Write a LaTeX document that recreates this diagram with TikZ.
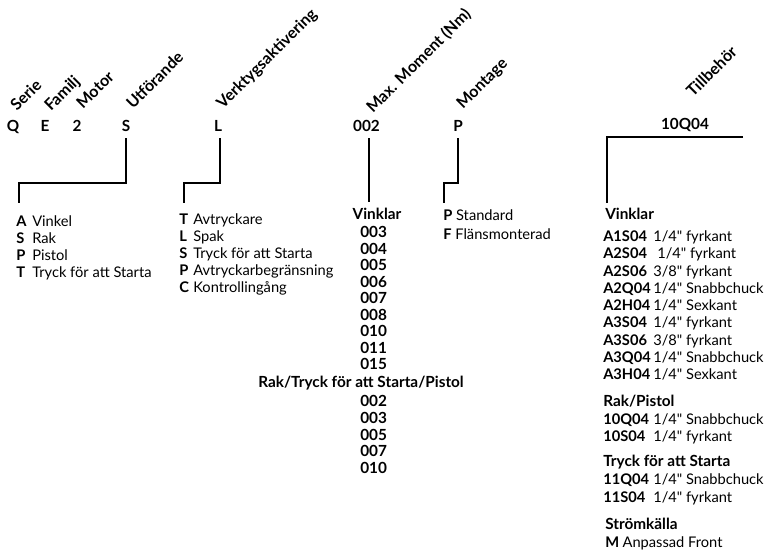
\documentclass[tikz,border=0pt]{standalone}
\usepackage{fontspec}
\setmainfont{Lato}
\usetikzlibrary{positioning,calc}

\tikzset{
  code/.style={font=\fontsize{11.5}{13}\selectfont\bfseries, anchor=base, inner sep=0pt},
  head/.style={font=\fontsize{12}{14}\selectfont\bfseries, rotate=45, anchor=base west, inner sep=0pt},
  item/.style={font=\fontsize{11}{13}\selectfont, anchor=base west, inner sep=0pt},
  grp/.style={font=\fontsize{11.5}{13}\selectfont\bfseries, anchor=base west, inner sep=0pt},
  lead/.style={line width=1.1pt},
}
\newcommand{\inch}{\textquotedbl}

\begin{document}
\begin{tikzpicture}[x=0.75pt,y=-0.75pt]
    \useasboundingbox (0,0) rectangle (768,551);

    % Code letters
    \node[code] (serie) at (13,131.5) {Q};
    \node[code] (familj) at (45,131.5) {E};
    \node[code] (motor) at (77,131.5) {2};
    \node[code] (utf) at (126,131.5) {S};
    \node[code] (verk) at (218,131.5) {L};
    \node[code] (mom) at (366.5,131.5) {002};
    \node[code] (mont) at (458,131.5) {P};
    \node[code] (till) at (685,129.5) {10Q04};

    % Headers
    \node[head] (hserie) at (17,112) {Serie};
    \node[head] (hfamilj) at (51,112) {Familj};
    \node[head] (hmotor) at (83,110) {Motor};
    \node[head] (hutf) at (133,110) {Utförande};
    \node[head] (hverk) at (223,110) {Verktygsaktivering};
    \node[head] (hmom) at (373,114) {Max. Moment (Nm)};
    \node[head] (hmont) at (463,110) {Montage};
    \node[head] (htill) at (693,98) {Tillbehör};

    % Leader lines
    \coordinate (utfend) at (19,203);
    \coordinate (verkend) at (184,203);
    \coordinate (momend) at (369,202);
    \coordinate (montend) at (444,203);
    \coordinate (tillR) at (743,137);
    \coordinate (tillend) at (607,203);
    \draw[lead] ($(utf.base)+(0,6.5)$) -- ++(0,45) -| (utfend);
    \draw[lead] ($(verk.base)+(2,6.5)$) -- ++(0,45) -| (verkend);
    \draw[lead] ($(mom.base -| momend)+(0,6.5)$) -- (momend);
    \draw[lead] ($(mont.base)+(0,6.5)$) -- ++(0,45) -| (montend);
    \draw[lead] (tillR) -| (tillend);

    % Utfoerande
    \foreach \k/\txt [count=\n] in {A/Vinkel, S/Rak, P/Pistol, T/Tryck för att Starta} {
        \node[item] (utf\n) at (16,{226.5+17*(\n-1)}) {\makebox[12pt][l]{\bfseries\k}\txt};
    }

    % Verktygsaktivering
    \foreach \k/\txt [count=\n] in {T/Avtryckare, L/Spak, S/Tryck för att Starta, P/Avtryckarbegränsning, C/Kontrollingång} {
        \node[item] (verk\n) at (179,{224.5+17*(\n-1)}) {\makebox[10.5pt][l]{\bfseries\k}\txt};
    }

    % Max. moment
    \node[code] (momv) at (377,219.5) {Vinklar};
    \foreach \v [count=\n] in {003,004,005,006,007,008,010,011,015} {
        \node[grp] (momv\n) at (360,{237.5+16.5*(\n-1)}) {\v};
    }
    \node[code] (momr) at (361,387.5) {Rak/Tryck för att Starta/Pistol};
    \foreach \v [count=\n] in {002,003,005,007,010} {
        \node[grp] (momr\n) at (360,{406.5+16.75*(\n-1)}) {\v};
    }

    % Montage
    \node[item] (mont1) at (443,220.5) {\textbf{P} Standard};
    \node[item] (mont2) at (443,239.5) {\textbf{F} Flänsmonterad};

    % Tillbehoer
    \node[grp] (tillv) at (605,219.5) {Vinklar};
    \foreach \k/\txt [count=\n] in {A1S04/{1/4\inch{} fyrkant}, A2S04/{\hspace{3pt}1/4\inch{} fyrkant}, A2S06/{3/8\inch{} fyrkant}, A2Q04/{1/4\inch{} Snabbchuck}, A2H04/{1/4\inch{} Sexkant}, A3S04/{1/4\inch{} fyrkant}, A3S06/{3/8\inch{} fyrkant}, A3Q04/{1/4\inch{} Snabbchuck}, A3H04/{1/4\inch{} Sexkant}} {
        \node[item] (tillv\n) at (603,{241.5+17.25*(\n-1)}) {\makebox[37.5pt][l]{\bfseries\k}\txt};
    }
    \node[grp] (tillr) at (603,406.5) {Rak/Pistol};
    \node[item] (tillr1) at (603,424.5) {\makebox[37.5pt][l]{\bfseries 10Q04}1/4\inch{} Snabbchuck};
    \node[item] (tillr2) at (603,441.5) {\makebox[37.5pt][l]{\bfseries 10S04}1/4\inch{} fyrkant};
    \node[grp] (tillt) at (603,466.5) {Tryck för att Starta};
    \node[item] (tillt1) at (603,484.5) {\makebox[37.5pt][l]{\bfseries 11Q04}1/4\inch{} Snabbchuck};
    \node[item] (tillt2) at (603,502) {\makebox[37.5pt][l]{\bfseries 11S04}1/4\inch{} fyrkant};
    \node[grp] (tills) at (605,529) {Strömkälla};
    \node[item] (tills1) at (605,547.5) {\makebox[13pt][l]{\bfseries M}Anpassad Front};
\end{tikzpicture}
\end{document}
